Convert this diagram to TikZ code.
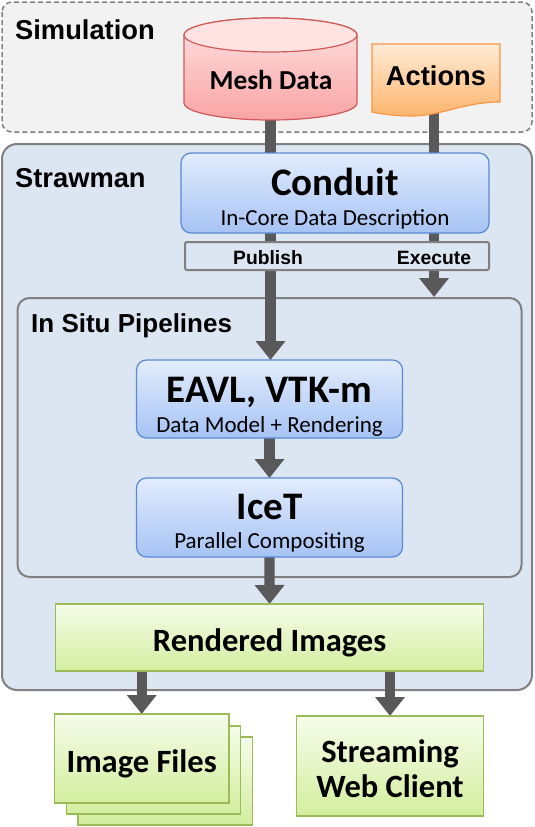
\documentclass[tikz,border=0pt]{standalone}
\usepackage{fontspec}
\usetikzlibrary{arrows.meta}
\newfontfamily\arialf{Liberation Sans}
\newfontfamily\calf{Carlito}
\definecolor{arrowgray}{HTML}{595959}
\definecolor{framegray}{HTML}{808080}
\definecolor{simfill}{HTML}{F2F2F2}
\definecolor{strawfill}{HTML}{DCE6F2}
\definecolor{bluetop}{HTML}{E2ECFD}
\definecolor{bluebot}{HTML}{A6C3F4}
\definecolor{blueborder}{HTML}{5A8AD2}
\definecolor{greentop}{HTML}{F6FCEA}
\definecolor{greenbot}{HTML}{D3EE9E}
\definecolor{greenborder}{HTML}{9BBB59}
\definecolor{redtop}{HTML}{FFE3E3}
\definecolor{redbot}{HTML}{F9A3A3}
\definecolor{redborder}{HTML}{CF5A57}
\definecolor{orangetop}{HTML}{FFEBD6}
\definecolor{orangebot}{HTML}{FCB56C}
\definecolor{orangeborder}{HTML}{F79646}
\begin{document}
\begin{tikzpicture}[x=1pt,y=1pt,
  frame/.style={draw=framegray, line width=2pt},
  bluebox/.style={rounded corners=10pt, top color=bluetop, bottom color=bluebot, draw=blueborder, line width=1.2pt, inner sep=0pt},
  greenbox/.style={top color=greentop, bottom color=greenbot, draw=greenborder, line width=1.2pt, inner sep=0pt},
  ghost/.style={inner sep=0pt, outer sep=0pt},
  flow/.style={draw=arrowgray, line width=10.3pt, -{Triangle[width=28.7pt,length=19pt]}},
  titletxt/.style={font=\arialf\bfseries\fontsize{27.3}{31}\selectfont, inner sep=0pt},
  bartxt/.style={font=\arialf\bfseries\fontsize{19.3}{23}\selectfont, inner sep=0pt},
  bigtxt/.style={font=\calf\bfseries\fontsize{39}{44}\selectfont, inner sep=0pt},
  subtxt/.style={font=\calf\fontsize{23}{27}\selectfont, inner sep=0pt},
  midtxt/.style={font=\calf\bfseries\fontsize{32.5}{36}\selectfont, inner sep=0pt},
]
\useasboundingbox (0,0) rectangle (535,-827);

% Simulation frame
\draw[draw=framegray, line width=1.5pt, dash pattern=on 5pt off 3pt, fill=simfill, rounded corners=10pt]
  (2,-2) rectangle (532,-132);
\node[titletxt, anchor=base west] (simlabel) at (15,-39) {Simulation};

% Strawman frame
\draw[frame, fill=strawfill, rounded corners=15pt] (2,-144) rectangle (532,-690);
\node[titletxt, anchor=base west] (strawlabel) at (15,-187) {Strawman};

% In situ frame
\draw[frame, rounded corners=12pt] (17.5,-298) rectangle (521.5,-577);
\node[titletxt, font=\arialf\bfseries\fontsize{26}{30}\selectfont, anchor=base west] (insitulabel) at (31,-332) {In Situ Pipelines};

% anchor nodes
\node[ghost, minimum width=173pt, minimum height=102pt] (mesh) at (270.5,-69) {};
\node[ghost, minimum width=128pt, minimum height=68pt] (actshape) at (434,-78) {};
\coordinate (exec) at (434,-297);
\node[ghost, minimum width=266pt, minimum height=78pt] (eavl) at (269.5,-399) {};
\node[ghost, minimum width=266pt, minimum height=79pt] (icet) at (269.5,-517.5) {};
\node[ghost, minimum width=428pt, minimum height=67pt] (rendered) at (269.6,-637.5) {};
\node[ghost, minimum width=174.6pt, minimum height=89pt] (files) at (141.7,-758.5) {};
\node[ghost, minimum width=187pt, minimum height=100pt] (stream) at (390,-766) {};

% arrows (behind boxes)
\draw[flow] (mesh.south) -- (mesh.south |- eavl.north);
\draw[flow] (actshape.south) -- (exec);
\draw[flow] (eavl.south) -- (icet.north);
\draw[flow] (icet.south) -- (rendered.north);
\draw[flow] (rendered.south -| files.north) -- (files.north);
\draw[flow] (rendered.south -| stream.north) -- (stream.north);

% Mesh data cylinder
\shade[top color=redtop, bottom color=redbot, draw=redborder, line width=1.2pt]
  (184,-35) -- (184,-103) arc[start angle=180, end angle=360, x radius=86.5pt, y radius=17pt]
  -- (357,-35) arc[start angle=0, end angle=180, x radius=86.5pt, y radius=17pt] -- cycle;
\draw[draw=redborder, line width=1.2pt, fill=redtop] (270.5,-35) ellipse[x radius=86.5pt, y radius=17pt];
\node[font=\calf\bfseries\fontsize{27.4}{31}\selectfont, inner sep=0pt, anchor=base] (meshlabel) at (271,-89) {Mesh Data};

% Actions document
\shade[top color=orangetop, bottom color=orangebot, draw=orangeborder, line width=1.2pt]
  (372,-44) -- (500,-44) -- (500,-102)
  .. controls (464,-102) and (441,-116) .. (412,-116)
  .. controls (395,-116) and (382,-114) .. (372,-112) -- cycle;
\node[titletxt, anchor=base] (actlabel) at (436,-85) {Actions};

% Conduit
\node[bluebox, minimum width=308pt, minimum height=80pt] (conduit) at (335,-193) {};
\node[bigtxt, anchor=base] (conduitlabel) at (335,-195) {Conduit};
\node[subtxt, anchor=base] (conduitsub) at (335,-225) {In-Core Data Description};

% Publish / Execute bar
\node[frame, fill=strawfill, rounded corners=2pt, minimum width=304pt, minimum height=28pt, inner sep=0pt] (bar) at (337,-256) {};
\node[bartxt, anchor=base] (publish) at (268,-264) {Publish};
\node[bartxt, anchor=base] (execute) at (434,-264) {Execute};

% EAVL and IceT
\node[bluebox, minimum width=266pt, minimum height=78pt] at (eavl) {};
\node[bigtxt, anchor=base] (eavllabel) at (269.5,-402) {EAVL, VTK-m};
\node[subtxt, anchor=base] (eavlsub) at (269.5,-432) {Data Model + Rendering};
\node[bluebox, minimum width=266pt, minimum height=79pt] at (icet) {};
\node[bigtxt, anchor=base] (icetlabel) at (269.5,-519) {IceT};
\node[subtxt, anchor=base] (icetsub) at (269.5,-548) {Parallel Compositing};

% Rendered images
\node[greenbox, minimum width=428pt, minimum height=67pt] at (rendered) {};
\node[midtxt, anchor=base] (renderedlabel) at (269.6,-651) {Rendered Images};

% Image files stack
\node[greenbox, minimum width=174.6pt, minimum height=88pt] (files3) at (165.3,-781) {};
\node[greenbox, minimum width=174.6pt, minimum height=88pt] (files2) at (153.5,-770) {};
\node[greenbox, minimum width=174.6pt, minimum height=89pt] at (files) {};
\node[midtxt, anchor=base] (fileslabel) at (141.7,-772) {Image Files};

% Streaming web client
\node[greenbox, minimum width=187pt, minimum height=100pt] at (stream) {};
\node[midtxt, anchor=base] (streamlabel1) at (390,-762) {Streaming};
\node[midtxt, anchor=base] (streamlabel2) at (390,-797) {Web Client};
\end{tikzpicture}
\end{document}
